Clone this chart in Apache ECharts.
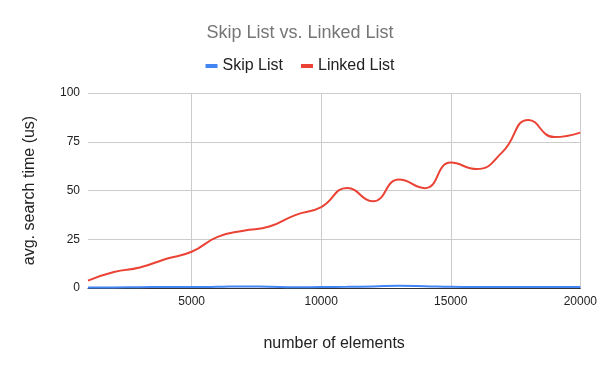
<!DOCTYPE html>
<html><head><meta charset="utf-8">
<script src="https://cdn.jsdelivr.net/npm/echarts@6/dist/echarts.min.js"></script>
<style>html,body{margin:0;padding:0;background:#fff}#c{width:600px;height:371px}</style>
</head><body><div id="c"></div>
<script>
var sizes = [1000,2000,3000,4000,5000,6000,7000,8000,9000,10000,11000,12000,13000,14000,15000,16000,17000,18000,19000,20000];
var skipList = [0.2,0.3,0.4,0.5,0.5,0.6,0.8,0.6,0.4,0.5,0.6,0.8,1.1,0.9,0.6,0.5,0.5,0.5,0.5,0.5];
var linkedList = [3.8,8.2,10.5,14.9,18.6,26.2,29.4,31.5,37.4,41.5,51.3,44.5,55.6,51.2,64.3,61.0,69.8,86.2,77.4,79.7];
var xTicks = [5000,10000,15000,20000];
var yTicks = [0,25,50,75,100];

function pairs(v){ return sizes.map(function(s,i){ return [s, v[i]]; }); }

var chart = echarts.init(document.getElementById('c'));
chart.setOption({
  animation: false,
  title: { text: 'Skip List vs. Linked List', left: 'center', top: 19,
    textStyle: { fontFamily: 'Arial, Liberation Sans', fontSize: 18, fontWeight: 'normal', color: '#757575' } },
  legend: { top: 53, left: 'center', itemWidth: 12, itemHeight: 4, itemGap: 18,
    icon: 'rect',
    textStyle: { fontFamily: 'Arial, Liberation Sans', fontSize: 16, color: '#222' },
    data: ['Skip List','Linked List'] },
  grid: { left: 88, right: 18, top: 93, bottom: 83, containLabel: false },
  xAxis: {
    type: 'value', min: 1000, max: 20000,
    name: 'number of elements', nameLocation: 'middle', nameGap: 48,
    nameTextStyle: { fontFamily: 'Arial, Liberation Sans', fontSize: 16, color: '#222' },
    axisLine: { show: true, lineStyle: { color: '#333', width: 1 } },
    axisTick: { show: false, customValues: xTicks },
    axisLabel: { customValues: xTicks, formatter: function(v){ return String(v); },
      fontFamily: 'Arial, Liberation Sans', fontSize: 12, color: '#222', margin: 8 },
    splitLine: { show: true, lineStyle: { color: '#ccc', width: 1 } }
  },
  yAxis: {
    type: 'value', min: 0, max: 100, interval: 25,
    name: 'avg. search time (us)', nameLocation: 'middle', nameGap: 50, nameRotate: 90,
    nameTextStyle: { fontFamily: 'Arial, Liberation Sans', fontSize: 16, color: '#222' },
    axisLine: { show: false }, axisTick: { show: false },
    axisLabel: { fontFamily: 'Arial, Liberation Sans', fontSize: 12, color: '#222', margin: 8 },
    splitLine: { show: true, lineStyle: { color: '#ccc', width: 1 } }
  },
  series: [
    { name: 'Skip List', type: 'line', smooth: 0.5, symbol: 'none', data: pairs(skipList),
      itemStyle: { color: '#4285F4' }, lineStyle: { color: '#4285F4', width: 2 } },
    { name: 'Linked List', type: 'line', smooth: 0.5, symbol: 'none', data: pairs(linkedList),
      itemStyle: { color: '#EA4335' }, lineStyle: { color: '#EA4335', width: 2 } }
  ]
});
</script></body></html>
